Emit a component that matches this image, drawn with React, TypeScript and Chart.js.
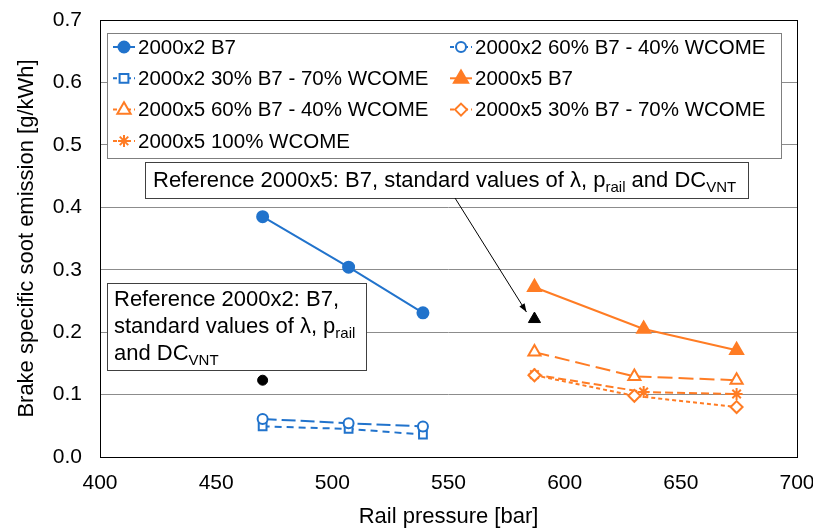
import React, { useEffect, useRef } from "react";
import { Chart, registerables } from "chart.js";

Chart.register(...registerables);

// Rail pressure [bar] and brake specific soot emission [g/kWh]
const pressure2000x2 = [470, 507, 539];
const soot2000x2B7 = [0.385, 0.304, 0.231];
const soot2000x2B60 = [0.061, 0.054, 0.049];
const soot2000x2B30 = [0.049, 0.045, 0.036];

const pressure2000x5B7 = [587, 634, 674];
const soot2000x5B7 = [0.272, 0.205, 0.171];
const pressure2000x5Blend = [587, 630, 674];
const soot2000x5B60 = [0.168, 0.129, 0.123];
const soot2000x5B30 = [0.131, 0.098, 0.080];
const pressure2000x5W100 = [587, 634, 674];
const soot2000x5W100 = [0.132, 0.104, 0.101];

// Reference operating points (B7, standard settings)
const refPressure2000x2 = 470;
const refSoot2000x2 = 0.123;
const refPressure2000x5 = 587;
const refSoot2000x5 = 0.221;

const xTicks = [400, 450, 500, 550, 600, 650, 700];
const yTicks = [0, 0.1, 0.2, 0.3, 0.4, 0.5, 0.6, 0.7];

const BLUE = "#2173cc";
const ORANGE = "#ff7c24";
const FONT = "'Liberation Sans', Arial, sans-serif";

const pts = (xs: number[], ys: number[]) => xs.map((x, i) => ({ x, y: ys[i] }));

function drawMarker(ctx: CanvasRenderingContext2D, style: string, x: number, y: number, r: number, fill: string, stroke: string, lw: number) {
  ctx.save();
  ctx.fillStyle = fill;
  ctx.strokeStyle = stroke;
  ctx.lineWidth = lw;
  ctx.setLineDash([]);
  ctx.beginPath();
  if (style === "circle") {
    ctx.arc(x, y, r, 0, Math.PI * 2);
    ctx.fill();
    ctx.stroke();
  } else if (style === "rect") {
    ctx.rect(x - r * 0.8, y - r * 0.8, r * 1.6, r * 1.6);
    ctx.fill();
    ctx.stroke();
  } else if (style === "triangle") {
    ctx.moveTo(x, y - r * 1.05);
    ctx.lineTo(x + r * 0.95, y + r * 0.6);
    ctx.lineTo(x - r * 0.95, y + r * 0.6);
    ctx.closePath();
    ctx.fill();
    ctx.stroke();
  } else if (style === "rectRot") {
    ctx.moveTo(x, y - r);
    ctx.lineTo(x + r, y);
    ctx.lineTo(x, y + r);
    ctx.lineTo(x - r, y);
    ctx.closePath();
    ctx.fill();
    ctx.stroke();
  } else if (style === "star") {
    for (let k = 0; k < 4; k++) {
      const a = (k * Math.PI) / 4;
      ctx.moveTo(x - Math.sin(a) * r, y - Math.cos(a) * r);
      ctx.lineTo(x + Math.sin(a) * r, y + Math.cos(a) * r);
    }
    ctx.stroke();
  }
  ctx.restore();
}

// Text with optional subscript segments: [text, isSub]
function drawRich(ctx: CanvasRenderingContext2D, parts: [string, boolean][], x: number, y: number, size: number) {
  let cx = x;
  for (const [t, sub] of parts) {
    ctx.font = `${sub ? Math.round(size * 0.66) : size}px ${FONT}`;
    ctx.fillText(t, cx, sub ? y + size * 0.3 : y);
    cx += ctx.measureText(t).width;
  }
}

const overlayPlugin = {
  id: "overlay",
  afterDatasetsDraw(chart: any) {
    const ctx: CanvasRenderingContext2D = chart.ctx;
    const xs = chart.scales.x;
    const ys = chart.scales.y;
    ctx.save();
    ctx.textBaseline = "middle";
    ctx.fillStyle = "#000";

    // Legend box
    const lx = 107, ly = 33, lw = 674, lh = 125;
    ctx.fillStyle = "#fff";
    ctx.fillRect(lx, ly, lw, lh);
    ctx.strokeStyle = "#7f7f7f";
    ctx.lineWidth = 1;
    ctx.strokeRect(lx + 0.5, ly + 0.5, lw, lh);
    const items = chart.data.datasets.filter((d: any) => !d.hideInLegend);
    items.forEach((d: any, i: number) => {
      const col = i % 2;
      const row = Math.floor(i / 2);
      const mx = col === 0 ? 124 : 461;
      const my = 47 + row * 31.3;
      ctx.save();
      ctx.strokeStyle = d.borderColor;
      ctx.lineWidth = 2;
      ctx.setLineDash(d.borderDash && d.borderDash.length ? [4, 3] : []);
      ctx.beginPath();
      ctx.moveTo(mx - 11, my);
      ctx.lineTo(mx + 11, my);
      ctx.stroke();
      ctx.restore();
      drawMarker(ctx, d.pointStyle, mx, my, d.pointRadius, d.pointBackgroundColor, d.pointBorderColor, d.pointBorderWidth);
      ctx.fillStyle = "#000";
      ctx.font = `20.5px ${FONT}`;
      ctx.fillText(d.label, mx + 14, my + 1);
    });

    // Annotation: reference 2000x5
    const b1x = 145, b1y = 162, b1w = 603, b1h = 36;
    ctx.fillStyle = "#fff";
    ctx.fillRect(b1x, b1y, b1w, b1h);
    ctx.strokeStyle = "#404040";
    ctx.strokeRect(b1x + 0.5, b1y + 0.5, b1w, b1h);
    ctx.fillStyle = "#000";
    drawRich(ctx, [["Reference 2000x5: B7, standard values of λ, p", false], ["rail", true], [" and DC", false], ["VNT", true]], 153, 181, 22);

    // Arrow to the 2000x5 reference point
    const ax0 = 455, ay0 = 198;
    const ax1 = xs.getPixelForValue(refPressure2000x5) - 8;
    const ay1 = ys.getPixelForValue(refSoot2000x5) - 7;
    ctx.strokeStyle = "#000";
    ctx.lineWidth = 1;
    ctx.beginPath();
    ctx.moveTo(ax0, ay0);
    ctx.lineTo(ax1, ay1);
    ctx.stroke();
    const ang = Math.atan2(ay1 - ay0, ax1 - ax0);
    ctx.beginPath();
    ctx.moveTo(ax1, ay1);
    ctx.lineTo(ax1 - 9 * Math.cos(ang - 0.35), ay1 - 9 * Math.sin(ang - 0.35));
    ctx.lineTo(ax1 - 9 * Math.cos(ang + 0.35), ay1 - 9 * Math.sin(ang + 0.35));
    ctx.closePath();
    ctx.fillStyle = "#000";
    ctx.fill();

    // Annotation: reference 2000x2
    const b2x = 107, b2y = 283, b2w = 259, b2h = 87;
    ctx.fillStyle = "#fff";
    ctx.fillRect(b2x, b2y, b2w, b2h);
    ctx.strokeStyle = "#404040";
    ctx.strokeRect(b2x + 0.5, b2y + 0.5, b2w, b2h);
    ctx.fillStyle = "#000";
    drawRich(ctx, [["Reference 2000x2: B7,", false]], 114, 300, 22);
    drawRich(ctx, [["standard values of λ, p", false], ["rail", true]], 114, 327, 22);
    drawRich(ctx, [["and DC", false], ["VNT", true]], 114, 354, 22);

    ctx.restore();
  },
};

const framePlugin = {
  id: "frame",
  afterDraw(chart: any) {
    const { left, top, right, bottom } = chart.chartArea;
    const ctx = chart.ctx;
    ctx.save();
    ctx.strokeStyle = "#000";
    ctx.lineWidth = 1;
    ctx.strokeRect(Math.round(left) + 0.5, Math.round(top) + 0.5, Math.round(right - left), Math.round(bottom - top));
    ctx.restore();
  },
};

// Fix scale sizes and drop the automatic label overhang padding
const fitSize = (prop: "width" | "height", size: number) => (s: any) => {
  s[prop] = size;
  s.paddingTop = 0;
  s.paddingBottom = 0;
  s.paddingLeft = 0;
  s.paddingRight = 0;
};

export default function App() {
  const ref = useRef<HTMLCanvasElement>(null);

  useEffect(() => {
    if (!ref.current) return;
    const line = (label: string, data: any[], color: string, style: string, filled: boolean, dash: number[], r: number) => ({
      label,
      data,
      borderColor: color,
      backgroundColor: color,
      borderWidth: 2,
      borderDash: dash,
      pointStyle: style,
      pointRadius: r,
      pointBackgroundColor: filled ? color : "#fff",
      pointBorderColor: color,
      pointBorderWidth: 2,
      showLine: true,
    });

    const chart = new Chart(ref.current, {
      type: "scatter",
      data: {
        datasets: [
          line("2000x2 B7", pts(pressure2000x2, soot2000x2B7), BLUE, "circle", true, [], 5.5),
          line("2000x2 60% B7 - 40% WCOME", pts(pressure2000x2, soot2000x2B60), BLUE, "circle", false, [14, 5], 5),
          line("2000x2 30% B7 - 70% WCOME", pts(pressure2000x2, soot2000x2B30), BLUE, "rect", false, [7, 5], 5.5),
          line("2000x5 B7", pts(pressure2000x5B7, soot2000x5B7), ORANGE, "triangle", true, [], 7.5),
          line("2000x5 60% B7 - 40% WCOME", pts(pressure2000x5Blend, soot2000x5B60), ORANGE, "triangle", false, [15, 6], 7),
          line("2000x5 30% B7 - 70% WCOME", pts(pressure2000x5Blend, soot2000x5B30), ORANGE, "rectRot", false, [4, 3], 6),
          line("2000x5 100% WCOME", pts(pressure2000x5W100, soot2000x5W100), ORANGE, "star", false, [8, 4], 6),
          {
            label: "Reference 2000x2",
            hideInLegend: true,
            data: [{ x: refPressure2000x2, y: refSoot2000x2 }],
            pointStyle: "circle",
            pointRadius: 5,
            pointBackgroundColor: "#000",
            pointBorderColor: "#000",
            borderColor: "#000",
            showLine: false,
          } as any,
          {
            label: "Reference 2000x5",
            hideInLegend: true,
            data: [{ x: refPressure2000x5, y: refSoot2000x5 }],
            pointStyle: "triangle",
            pointRadius: 7,
            pointBackgroundColor: "#000",
            pointBorderColor: "#000",
            borderColor: "#000",
            showLine: false,
          } as any,
        ],
      },
      options: {
        responsive: false,
        animation: false,
        layout: { padding: { top: 20, right: 16, left: 0, bottom: 0 } },
        plugins: { legend: { display: false }, tooltip: { enabled: false } },
        scales: {
          x: {
            type: "linear",
            min: 400,
            max: 700,
            afterBuildTicks: (s: any) => {
              s.ticks = xTicks.map((v) => ({ value: v }));
            },
            afterFit: fitSize("height", 73),
            grid: { display: false, drawTicks: false },
            border: { display: false },
            ticks: {
              color: "#000",
              font: { family: FONT, size: 21 },
              padding: 14,
              maxRotation: 0,
              callback: (v: any) => String(v),
            },
            title: {
              display: true,
              text: "Rail pressure [bar]",
              color: "#000",
              font: { family: FONT, size: 22 },
              padding: { top: 8, bottom: 0 },
            },
          },
          y: {
            type: "linear",
            min: 0,
            max: 0.7,
            afterBuildTicks: (s: any) => {
              s.ticks = yTicks.map((v) => ({ value: v }));
            },
            afterFit: fitSize("width", 100),
            grid: { color: "#8c8c8c", lineWidth: 1, drawTicks: false },
            border: { display: false },
            ticks: {
              color: "#000",
              font: { family: FONT, size: 21 },
              padding: 18,
              callback: (v: any) => Number(v).toFixed(1),
            },
            title: {
              display: true,
              text: "Brake specific soot emission [g/kWh]",
              color: "#000",
              font: { family: FONT, size: 22 },
              padding: { top: 14, bottom: 0 },
            },
          },
        },
      },
      plugins: [framePlugin, overlayPlugin],
    });
    return () => chart.destroy();
  }, []);

  return (
    <div style={{ position: "fixed", left: 0, top: 0, width: 813, height: 530, background: "#fff" }}>
      <canvas ref={ref} width={813} height={530} style={{ display: "block" }} />
    </div>
  );
}
